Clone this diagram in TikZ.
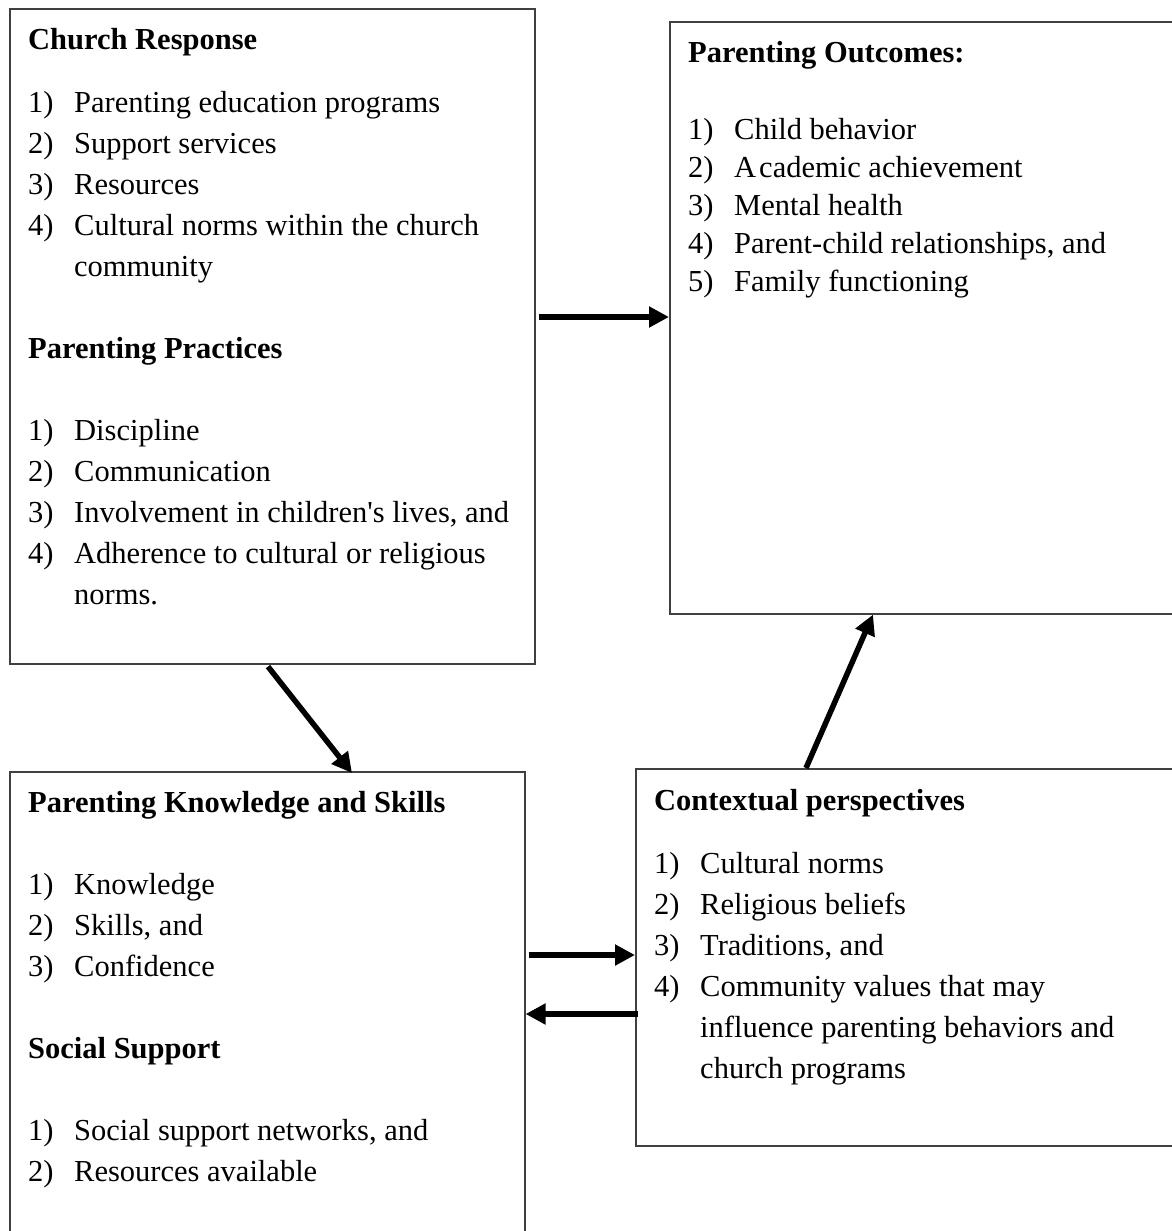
\documentclass[tikz,border=0pt]{standalone}
\usepackage{fontspec}
\setmainfont{Liberation Serif}[Ligatures=TeXOff]
\usetikzlibrary{arrows.meta,calc}
\tikzset{
  box/.style={draw=black!75, line width=1.6pt, rectangle, inner sep=0pt, anchor=north west},
  arr/.style={line width=5.5pt, -{Triangle[length=20pt,width=20pt]}},
  txt/.style={inner sep=0pt, anchor=base west, font=\fontsize{30.5}{41}\selectfont},
  hd/.style={txt, font=\fontsize{30.5}{41}\selectfont\bfseries}
}
\begin{document}
\begin{tikzpicture}[x=1pt,y=-1pt]
\clip (0,0) rectangle (1172,1231);
\fill[white] (0,0) rectangle (1172,1231);
% boxes
\node[box, minimum width=525pt, minimum height=655pt] (A) at (9,8) {};
\node[box, minimum width=520pt, minimum height=592pt] (B) at (669,21) {};
\node[box, minimum width=515pt, minimum height=470pt] (C) at (9,771) {};
\node[box, minimum width=560pt, minimum height=377pt] (D) at (635,768) {};
% Box A text
\node[hd] (a0) at (28,50) {Church Response};
\node[txt] (a1n) at (28,112) {1)}; \node[txt] (a1) at (74,112) {Parenting education programs};
\node[txt] (a2n) at (28,153) {2)}; \node[txt] (a2) at (74,153) {Support services};
\node[txt] (a3n) at (28,194) {3)}; \node[txt] (a3) at (74,194) {Resources};
\node[txt] (a4n) at (28,235) {4)}; \node[txt] (a4) at (74,235) {Cultural norms within the church};
\node[txt] (a4b) at (74,276) {community};
\node[hd] (a5) at (28,358) {Parenting Practices};
\node[txt] (a6n) at (28,440) {1)}; \node[txt] (a6) at (74,440) {Discipline};
\node[txt] (a7n) at (28,481) {2)}; \node[txt] (a7) at (74,481) {Communication};
\node[txt] (a8n) at (28,522) {3)}; \node[txt] (a8) at (74,522) {Involvement in children's lives, and};
\node[txt] (a9n) at (28,563) {4)}; \node[txt] (a9) at (74,563) {Adherence to cultural or religious};
\node[txt] (a9b) at (74,604) {norms.};
% Box B text
\node[hd] (b0) at (688,63) {Parenting Outcomes:};
\node[txt] (b1n) at (688,139) {1)}; \node[txt] (b1) at (734,139) {Child behavior};
\node[txt] (b2n) at (688,177) {2)}; \node[txt] (b2) at (734,177) {A\kern3pt cademic achievement};
\node[txt] (b3n) at (688,215) {3)}; \node[txt] (b3) at (734,215) {Mental health};
\node[txt] (b4n) at (688,253) {4)}; \node[txt] (b4) at (734,253) {Parent-child relationships, and};
\node[txt] (b5n) at (688,291) {5)}; \node[txt] (b5) at (734,291) {Family functioning};
% Box C text
\node[hd] (c0) at (28,812) {Parenting Knowledge and Skills};
\node[txt] (c1n) at (28,894) {1)}; \node[txt] (c1) at (74,894) {Knowledge};
\node[txt] (c2n) at (28,935) {2)}; \node[txt] (c2) at (74,935) {Skills, and};
\node[txt] (c3n) at (28,976) {3)}; \node[txt] (c3) at (74,976) {Confidence};
\node[hd] (c4) at (28,1058) {Social Support};
\node[txt] (c5n) at (28,1140) {1)}; \node[txt] (c5) at (74,1140) {Social support networks, and};
\node[txt] (c6n) at (28,1181) {2)}; \node[txt] (c6) at (74,1181) {Resources available};
% Box D text
\node[hd] (d0) at (654,810) {Contextual perspectives};
\node[txt] (d1n) at (654,873) {1)}; \node[txt] (d1) at (700,873) {Cultural norms};
\node[txt] (d2n) at (654,914) {2)}; \node[txt] (d2) at (700,914) {Religious beliefs};
\node[txt] (d3n) at (654,955) {3)}; \node[txt] (d3) at (700,955) {Traditions, and};
\node[txt] (d4n) at (654,996) {4)}; \node[txt] (d4) at (700,996) {Community values that may};
\node[txt] (d4b) at (700,1037) {influence parenting behaviors and};
\node[txt] (d4c) at (700,1078) {church programs};
% arrows
\draw[arr] ($(A.north east)+(3,309)$) -- ($(B.north west)+(0,296)$);
\draw[arr] ($(A.south west)+(259,2)$) -- ($(C.north west)+(343,2)$);
\draw[arr] ($(D.north west)+(171,0)$) -- ($(B.south west)+(204,0)$);
\draw[arr] ($(C.north east)+(3,184)$) -- ($(D.north west)+(0,187)$);
\draw[arr] ($(D.north west)+(3,246)$) -- ($(C.north east)+(0,243)$);
\end{tikzpicture}
\end{document}
